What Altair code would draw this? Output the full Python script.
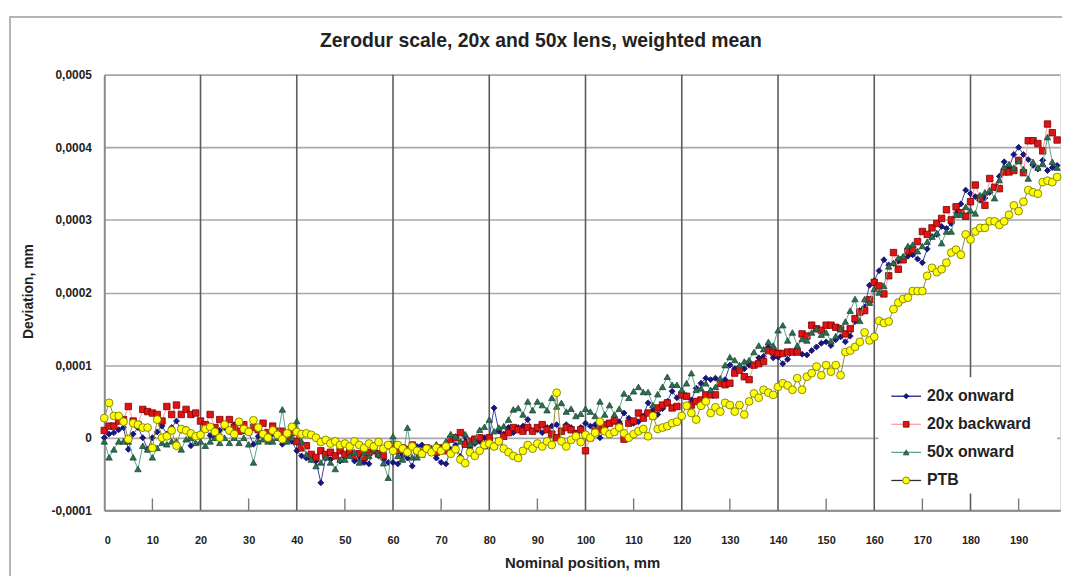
import altair as alt
import pandas as pd

# ---------------- data (deviation in nm; 100 nm = 0.0001 mm) ----------------
positions = list(range(0, 199))  # nominal position, mm

onward_20x = [
    0, 5, 7, 11, 14, -16, 5, 14, 0, -16,
    0, 8, 16, 5, 14, 23, 10, 12, -11, 2,
    5, 12, 3, 0, 10, 14, 8, 18, 20, 9,
    7, -9, 2, 5, 0, 5, 0, -9, 2, -5,
    -18, -25, -28, -30, -32, -62, -28, -30, -25, -32,
    -27, -20, -32, -30, -34, -36, -10, -25, -30, -34,
    -34, -36, -24, -28, -39, -12, -10, -14, -20, -28,
    -34, -36, -16, -10, -26, 0, -14, -8, -5, 0,
    0, 41, 9, 5, 14, 7, 14, 16, 25, 9,
    11, 7, 14, 16, 18, 9, 18, 14, 7, 14,
    20, 16, 18, 0, 12, 20, 25, 22, 34, 27,
    20, 22, 30, 48, 38, 32, 40, 50, 64, 55,
    60, 58, 52, 68, 75, 82, 80, 82, 78, 80,
    100, 95, 98, 95, 100, 100, 110, 112, 125, 110,
    111, 102, 108, 118, 122, 115, 114, 120, 125, 130,
    132, 127, 135, 139, 132, 140, 160, 175, 180, 210,
    216, 230, 245, 238, 240, 243, 248, 250, 252, 246,
    241, 260, 277, 280, 291, 288, 295, 310, 322, 341,
    336, 332, 327, 330, 338, 345, 360, 380, 372, 390,
    400, 390, 383, 375, 370, 382, 368, 372, 375,
]

backward_20x = [
    10, 16, 16, 23, 25, 43, 23, 18, 39, 36,
    34, 32, 23, 43, 32, 45, 32, 39, 32, 34,
    23, 18, 32, 14, 25, 18, 25, 14, 9, 18,
    9, 14, 11, 20, 7, 16, 9, 9, 2, 7,
    -5, -14, -11, -23, -27, -18, -23, -20, -25, -18,
    -23, -20, -25, -22, -27, -20, -18, -22, -25, -11,
    -9, -18, -14, -16, -10, -18, -20, -14, -18, -20,
    -14, -18, -2, 0, 7, -9, -5, -2, 0, -11,
    0, -11, -5, 2, 7, 14, 11, 9, 14, 9,
    14, 18, 11, 5, 0, 9, 14, 11, 5, 11,
    -18, 0, 9, 11, 18, 20, 23, 16, -2, 20,
    23, 34, 27, 34, 30, 41, 45, 48, 41, 43,
    59, 57, 45, 50, 52, 59, 59, 59, 75, 73,
    75, 89, 93, 84, 80, 100, 102, 105, 120, 118,
    116, 116, 118, 118, 118, 143, 140, 155, 150, 148,
    155, 155, 152, 150, 143, 150, 164, 173, 175, 190,
    214, 209, 198, 223, 255, 232, 245, 257, 259, 270,
    284, 280, 289, 295, 302, 314, 300, 318, 310, 305,
    325, 348, 330, 320, 357, 345, 343, 366, 366, 368,
    382, 365, 409, 409, 405, 395, 432, 420, 410,
]

onward_50x = [
    -5, -27, -16, -5, -5, -5, -27, -43, -11, -16,
    -27, -14, -7, -9, -5, -5, -16, -2, 0, -7,
    -5, -11, -5, 0, -7, 0, -7, 0, -7, 0,
    -9, -34, -5, -2, -5, -5, 0, 39, -5, 0,
    23, -5, -23, -30, -39, -34, -27, -34, -43, -30,
    -30, -25, -20, -34, -20, -25, -16, -23, -35, -55,
    2, -25, -30, 14, -27, -27, -23, -16, -14, -9,
    -14, -5, 5, 2, -5, 5, -9, -5, 11, 15,
    25, 9, 14, 16, 25, 39, 41, 32, 50, 38,
    50, 45, 38, 55, 43, 48, 36, 40, 30, 33,
    40, 36, 30, 50, 32, 45, 32, 40, 61, 55,
    64, 70, 63, 63, 45, 60, 70, 84, 73, 73,
    66, 75, 89, 66, 68, 75, 66, 70, 82, 100,
    111, 107, 100, 105, 107, 118, 127, 122, 132, 127,
    148, 155, 134, 145, 127, 136, 134, 145, 150, 142,
    145, 133, 140, 150, 160, 175, 191, 161, 191, 186,
    205, 200, 209, 236, 241, 248, 250, 264, 266, 257,
    264, 270, 277, 282, 268, 284, 284, 307, 307, 318,
    313, 309, 334, 338, 341, 330, 355, 373, 377, 372,
    381, 370, 357, 380, 372, 377, 414, 380, 372,
]

ptb = [
    27, 48, 30, 30, 22, -2, 20, 18, 14, 14,
    -14, 25, 0, 2, 10, -11, 12, 10, 6, 2,
    4, 12, 15, 8, 0, 18, 10, 5, 22, 12,
    8, 24, 14, 5, 0, 10, 4, -2, 6, 15,
    8, 5, 6, 4, 0, -6, -3, -8, -5, -10,
    -8, -12, -5, -10, -14, -8, -12, -6, -15, -10,
    -18, -10, -15, -20, -12, -18, -22, -15, -20, -14,
    -18, -12, -22, -16, -30, -35, -20, -25, -18, -10,
    -8, -12, -5, -15, -20, -25, -28, -18, -10, -15,
    -8, -12, -5, -10, 62, -5, -12, -3, 2, -6,
    4, 0, 7, 22, 9, 5, 8, 14, 6, 0,
    5, 9, 12, 2, 30, 12, 14, 16, 20, 22,
    30, 44, 34, 25, 44, 50, 34, 42, 36, 48,
    45, 36, 45, 32, 50, 61, 55, 66, 62, 59,
    70, 75, 72, 66, 82, 66, 84, 89, 98, 86,
    100, 91, 100, 86, 118, 120, 125, 132, 145, 134,
    139, 161, 158, 160, 177, 186, 191, 193, 202, 202,
    202, 223, 234, 228, 232, 241, 255, 259, 252, 280,
    273, 284, 289, 289, 298, 298, 293, 298, 307, 320,
    312, 325, 341, 338, 336, 352, 354, 352, 359,
]

series_names = ["20x onward", "20x backward", "50x onward", "PTB"]
series_values = [onward_20x, backward_20x, onward_50x, ptb]

chart_title = "Zerodur scale, 20x and 50x lens, weighted mean"
x_tick_values = list(range(0, 200, 10))
x_grid_values = list(range(20, 200, 20))
x_minor_values = list(range(10, 200, 20))
y_tick_values = [-0.0001, 0.0, 0.0001, 0.0002, 0.0003, 0.0004, 0.0005]

# ---------------- styles ----------------
FONT = "Liberation Sans Narrow, Arial Narrow, Liberation Sans, Arial, sans-serif"
W, H = 963, 439
marker_fill = ["#16168a", "#e01414", "#2e6e52", "#ffff00"]
marker_stroke = ["#0a0a5a", "#7a0000", "#1c4a36", "#6e6e00"]
line_color = ["#3c3ca6", "#ff9aa2", "#5fa488", "#8c8c3c"]
legend_line = ["#1c1c8e", "#ff9aa2", "#5fa488", "#303030"]
shapes = ["diamond", "square", "triangle-up", "circle"]
sizes = [36, 42, 42, 62]

xscale = alt.Scale(domain=[0, 198.6], nice=False, zero=False)
yscale = alt.Scale(domain=[-0.0001, 0.0005], nice=False, zero=False)

X_TITLE = "Nominal position, mm"
Y_TITLE = "Deviation, mm"

xaxis = alt.Axis(
    values=x_tick_values, format="d", grid=False, ticks=False,
    labelFont=FONT, labelFontSize=11, labelFontWeight="bold", labelColor="#222",
    labelPadding=24, domainColor="#8a8a8a", domainWidth=2,
    titleFont=FONT, titleFontSize=15, titleFontWeight="bold", titleColor="#222",
    titleY=53, titleBaseline="middle",
)
yaxis = alt.Axis(
    values=y_tick_values,
    labelExpr="datum.value == 0 ? '0' : replace(replace(format(datum.value, '.4f'), '.', ','), '\u2212', '-')",
    grid=True, gridColor="#a8a8a8", gridWidth=1.6, ticks=False,
    labelFont=FONT, labelFontSize=12, labelFontWeight="bold", labelColor="#222",
    labelPadding=13, domainColor="#8a8a8a", domainWidth=2,
    titleFont=FONT, titleFontSize=14, titleFontWeight="bold", titleColor="#222",
    titleX=-76, titleY=218, titleBaseline="middle", titleAngle=-90,
)

one = pd.DataFrame({"k": [0]})
layers = []

# outer chart frame
layers.append(
    alt.Chart(one).mark_rect(fillOpacity=0, stroke="#b4b4b4", strokeWidth=2).encode(
        x=alt.value(-95), x2=alt.value(1010), y=alt.value(-58), y2=alt.value(570)
    )
)

# vertical gridlines every 20 mm
layers.append(
    alt.Chart(pd.DataFrame({"g": x_grid_values})).mark_rule(color="#5c5c5c", strokeWidth=1.6).encode(
        x=alt.X("g:Q", scale=xscale, axis=xaxis, title=X_TITLE)
    )
)
# minor ticks at odd tens
layers.append(
    alt.Chart(pd.DataFrame({"m": x_minor_values})).mark_rule(color="#7a7a7a", strokeWidth=1.4).encode(
        x=alt.X("m:Q", scale=xscale, axis=xaxis, title=X_TITLE),
        y=alt.value(H), y2=alt.value(H - 12),
    )
)

# legend background box
layers.append(
    alt.Chart(one).mark_rect(fill="white").encode(
        x=alt.value(780), x2=alt.value(960), y=alt.value(305), y2=alt.value(422)
    )
)

# data series
for i, name in enumerate(series_names):
    df = pd.DataFrame({
        "x": positions,
        "dev": [v * 1e-6 for v in series_values[i]],
        "series": name,
    })
    enc = dict(
        x=alt.X("x:Q", scale=xscale, axis=xaxis, title=X_TITLE),
        y=alt.Y("dev:Q", scale=yscale, axis=yaxis, title=Y_TITLE),
    )
    layers.append(alt.Chart(df).mark_line(color=line_color[i], strokeWidth=1).encode(**enc))
    layers.append(
        alt.Chart(df).mark_point(
            shape=shapes[i], filled=True, fill=marker_fill[i], stroke=marker_stroke[i],
            strokeWidth=0.8, size=sizes[i], opacity=1,
        ).encode(**enc)
    )

# manual legend
for i, name in enumerate(series_names):
    yy = 324 + i * 28.3
    layers.append(
        alt.Chart(one).mark_rule(color=legend_line[i], strokeWidth=1.3).encode(
            x=alt.value(793), x2=alt.value(823), y=alt.value(yy)
        )
    )
    layers.append(
        alt.Chart(one).mark_point(
            shape=shapes[i], filled=True, fill=marker_fill[i], stroke=marker_stroke[i],
            strokeWidth=0.8, size=sizes[i] * 0.8, opacity=1,
        ).encode(x=alt.value(808), y=alt.value(yy))
    )
    layers.append(
        alt.Chart(pd.DataFrame({"label": [name]})).mark_text(
            align="left", baseline="middle", font=FONT, fontSize=16, fontWeight="bold", color="#222"
        ).encode(x=alt.value(829), y=alt.value(yy), text="label:N")
    )

# chart title
layers.append(
    alt.Chart(pd.DataFrame({"t": [chart_title]})).mark_text(
        align="center", baseline="middle", font=FONT, fontSize=19.5, fontWeight="bold", color="#222"
    ).encode(x=alt.value(440), y=alt.value(-34), text="t:N")
)

chart = alt.layer(*layers).properties(
    width=W, height=H,
    autosize=alt.AutoSizeParams(type="none"),
    padding={"left": 97, "top": 65, "right": 2, "bottom": 64},
).configure_view(stroke=None).configure(background="white")

chart.save("out.html", embed_options={"renderer": "svg", "actions": False})
